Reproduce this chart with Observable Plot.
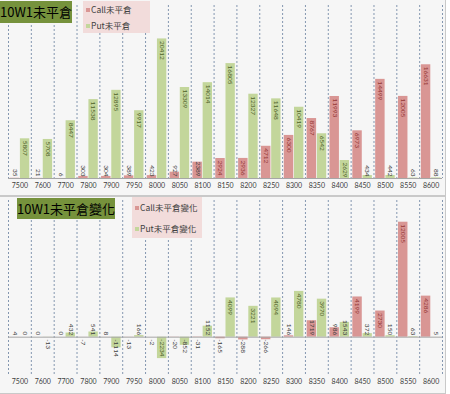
<!DOCTYPE html>
<html><head><meta charset="utf-8">
<script src="https://cdn.jsdelivr.net/npm/d3@7"></script>
<script src="https://cdn.jsdelivr.net/npm/@observablehq/plot@0.6"></script>
<style>
body{margin:0;background:#fff;font-family:Lato,"Noto Sans CJK TC",sans-serif;}
.panel{position:absolute;left:-1px;width:445px;border:1px solid #c9c9c9;background:#f6f6f6;overflow:hidden}
.panel svg{position:absolute;left:0;top:0;background:transparent}
.title{position:absolute;background:#76923c;color:#000;font-family:"Noto Sans CJK TC",sans-serif;font-size:13px;text-align:center;white-space:nowrap}
.legend{position:absolute;background:#f2dcdb;font-family:"Noto Sans CJK TC",sans-serif;font-size:8.5px;color:#404040}
.legend div{position:absolute;left:3px;white-space:nowrap;line-height:10px}
.sw{display:inline-block;width:4px;height:4px;margin-right:1px;vertical-align:1px}
</style></head>
<body>
<div id="p1" class="panel" style="top:-1px;height:195px">
  <div class="title" style="left:0;top:1px;width:72px;height:22px;line-height:22px">10W1未平倉</div>
  <div class="legend" style="left:83px;top:1px;width:67px;height:32px">
    <div style="top:3px"><span class="sw" style="background:#d99694"></span>Call未平倉</div>
    <div style="top:19px"><span class="sw" style="background:#c3d69b"></span>Put未平倉</div>
  </div>
</div>
<div id="p2" class="panel" style="top:196px;height:196px">
  <div class="title" style="left:17px;top:1px;width:98px;height:21px;line-height:21px">10W1未平倉變化</div>
  <div class="legend" style="left:132px;top:0;width:70px;height:41px">
    <div style="top:5px"><span class="sw" style="background:#d99694"></span>Call未平倉變化</div>
    <div style="top:26px"><span class="sw" style="background:#c3d69b"></span>Put未平倉變化</div>
  </div>
</div>
<script>
const strikes = [7500,7600,7700,7800,7900,7950,8000,8050,8100,8150,8200,8250,8300,8350,8400,8450,8500,8550,8600];
const callOI  = [35,21,6,303,304,389,423,927,2389,2924,2936,4712,6300,8767,11993,6973,14499,12005,16631];
const putOI   = [5807,5708,8447,11538,12895,9917,20412,13309,14014,16805,12327,11648,10419,6542,2629,434,442,63,88];
const callChg = [4,0,0,-7,8,-13,-2,-20,-31,-165,-288,-266,146,1719,986,4199,2730,12005,4286];
const putChg  = [0,-13,432,541,-1114,166,-2234,-852,1152,4099,3221,4094,4780,3970,1543,372,150,63,5];

const W = 445, ML = 8, MR = 3;
const bw = (W - ML - MR) / strikes.length;
const callColor = "#d99694", putColor = "#c3d69b";
const callText = "#953735", putText = "#4f6228", outText = "#404040";

function rows(vals) { return strikes.map((s, i) => ({strike: String(s), value: vals[i]})); }

function panel({call, put, H, MB, MT, domain, tickPad}) {
  const k = (H - MB - MT) / (domain[1] - domain[0]);
  const textLen = d => String(d.value).length * 3.6 + 3;
  const fits = d => Math.abs(d.value) * k >= textLen(d);
  const cData = rows(call), pData = rows(put);
  const labels = (data, dx, col) => {
    const base = {x: "strike", text: d => String(d.value), rotate: 90, dx, fontSize: 6.5};
    return [
      Plot.text(data.filter(d => d.value > 0 && fits(d)), {...base, y: "value", textAnchor: "start", dy: 2, fill: col}),
      Plot.text(data.filter(d => d.value >= 0 && !fits(d)), {...base, y: () => 0, textAnchor: "end", dy: -2, fill: outText}),
      Plot.text(data.filter(d => d.value < 0 && fits(d)), {...base, y: "value", textAnchor: "end", dy: -2, fill: col}),
      Plot.text(data.filter(d => d.value < 0 && !fits(d)), {...base, y: () => 0, textAnchor: "start", dy: 2, fill: outText})
    ];
  };
  return Plot.plot({
    width: W, height: H,
    marginLeft: ML, marginRight: MR, marginTop: MT, marginBottom: MB,
    style: {fontFamily: "Lato, sans-serif", fontSize: "7px", color: "#404040", background: "transparent"},
    x: {type: "band", domain: strikes.map(String), padding: 0, round: false, tickSize: 0, tickPadding: tickPad, label: null},
    y: {domain, axis: null},
    marks: [
      Plot.tickX(strikes.map(String), {x: d => d, dx: -bw / 2, stroke: "#8497b0", strokeDasharray: "2,2"}),
      Plot.tickX(strikes.slice(-1).map(String), {x: d => d, dx: bw / 2, stroke: "#8497b0", strokeDasharray: "2,2"}),
      Plot.barY(cData, {x: "strike", y: "value", fill: callColor, insetLeft: 1.7, insetRight: 11.7}),
      Plot.barY(pData, {x: "strike", y: "value", fill: putColor, insetLeft: 11.9, insetRight: 1.6}),
      Plot.ruleY([0], {stroke: "#a6a6a6"}),
      ...labels(cData, -5, callText),
      ...labels(pData, 5, putText)
    ]
  });
}

document.getElementById("p1").prepend(panel({call: callOI, put: putOI, H: 195, MB: 17, MT: 5, domain: [0, 25300], tickPad: 5}));
document.getElementById("p2").prepend(panel({call: callChg, put: putChg, H: 196, MB: 18, MT: 3, domain: [-4000, 14270], tickPad: 4}));
</script>
</body></html>
